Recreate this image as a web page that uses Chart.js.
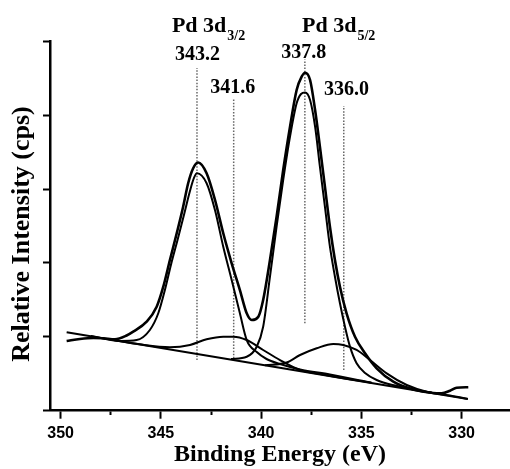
<!DOCTYPE html>
<html>
<head>
<meta charset="utf-8">
<title>Pd 3d XPS</title>
<script src="https://cdn.jsdelivr.net/npm/chart.js"></script>
<style>
  html, body { margin: 0; padding: 0; background: #fff; }
</style>
</head>
<body>
<canvas id="xps" width="510" height="469"></canvas>
<script>
// Data: [binding energy (eV), relative intensity]
const measured = [
  [349.70, 0.944], [349.04, 0.971], [348.37, 0.984], [347.88, 0.980], [347.29, 0.967],
  [346.71, 1.018], [346.38, 1.070], [345.71, 1.205], [345.21, 1.408], [344.88, 1.679],
  [344.55, 2.040], [344.21, 2.402], [343.89, 2.762], [343.64, 3.079], [343.39, 3.282],
  [343.14, 3.360], [342.72, 3.214], [342.30, 2.853], [341.89, 2.402], [341.47, 1.996],
  [341.06, 1.634], [340.72, 1.319], [340.47, 1.228], [340.14, 1.273], [339.90, 1.499],
  [339.56, 2.040], [339.23, 2.627], [338.90, 3.259], [338.56, 3.845], [338.23, 4.342],
  [337.98, 4.522], [337.81, 4.576], [337.56, 4.477], [337.31, 4.071], [337.07, 3.574],
  [336.82, 3.033], [336.57, 2.491], [336.32, 2.040], [336.07, 1.679], [335.74, 1.319],
  [335.32, 1.002], [334.82, 0.777], [334.24, 0.574], [333.41, 0.393], [332.41, 0.287],
  [331.42, 0.240], [331.00, 0.236], [330.58, 0.271], [330.25, 0.311], [329.67, 0.317]
];

const peak3432 = [
  [348.50, 1.010], [347.00, 0.945], [346.21, 0.957], [345.55, 1.093], [345.13, 1.319],
  [344.80, 1.634], [344.50, 1.973], [344.17, 2.311], [343.85, 2.650], [343.55, 2.975],
  [343.35, 3.151], [343.20, 3.214], [342.72, 3.079], [342.30, 2.713], [341.89, 2.220],
  [341.47, 1.770], [341.06, 1.319], [340.72, 0.957], [340.22, 0.794], [339.73, 0.700],
  [339.06, 0.632], [338.06, 0.558], [336.57, 0.490], [334.50, 0.380]
];

const peak3416 = [
  [347.50, 0.963], [346.05, 0.899], [344.55, 0.860], [343.55, 0.890], [342.72, 0.967],
  [341.89, 1.002], [341.39, 1.002], [340.72, 0.957], [339.90, 0.822], [339.06, 0.686],
  [338.06, 0.551], [337.07, 0.497], [335.82, 0.436], [334.50, 0.378]
];

const peak3378 = [
  [341.50, 0.700], [340.72, 0.731], [340.22, 0.866], [339.90, 1.137], [339.56, 1.814],
  [339.23, 2.491], [338.90, 3.124], [338.56, 3.710], [338.23, 4.162], [338.01, 4.288],
  [337.81, 4.308], [337.56, 4.207], [337.31, 3.845], [337.07, 3.304], [336.82, 2.762],
  [336.57, 2.220], [336.32, 1.814], [336.07, 1.454], [335.82, 1.137], [335.57, 0.867],
  [335.24, 0.642], [334.82, 0.510], [334.24, 0.416], [333.33, 0.341], [331.50, 0.245]
];

const peak3360 = [
  [339.81, 0.615], [338.73, 0.653], [338.06, 0.754], [337.23, 0.845], [336.40, 0.903],
  [335.91, 0.890], [335.24, 0.822], [334.57, 0.686], [333.74, 0.506], [332.74, 0.348],
  [331.75, 0.257], [330.58, 0.206], [329.69, 0.160]
];

const background = [[349.70, 1.061], [329.69, 0.158]];

// dotted guide lines at the fitted peak positions
const peakLabels = ['343.2', '341.6', '337.8', '336.0'];
const markerEnergy = [343.20, 341.37, 337.82, 335.88];
const markerTop = [4.64, 4.22, 4.76, 4.125];
const markerBottom = [0.686, 0.709, 1.183, 0.552];

const doubletSub = ['3/2', '5/2'];
const doubletEnergy = [344.45, 337.96];

const xTicks = [330, 335, 340, 345, 350];

const toPoints = arr => arr.map(([x, y]) => ({ x, y }));

function curve(data, width) {
  return {
    data: toPoints(data),
    borderColor: '#000',
    borderWidth: width,
    pointRadius: 0,
    fill: false,
    cubicInterpolationMode: 'monotone'
  };
}

const markerSets = markerEnergy.map((e, i) => ({
  data: [{ x: e, y: markerBottom[i] }, { x: e, y: markerTop[i] }],
  borderColor: '#666',
  borderWidth: 1.5,
  borderDash: [1.5, 1.6],
  pointRadius: 0,
  fill: false
}));

// labels above the guide lines, doublet headers and the y title
const labelShift = [[0.5, -8], [-1, -6], [-1, -1.5], [2.7, -11]];
const peakNotes = {
  id: 'peakNotes',
  afterDatasetsDraw(chart) {
    const { ctx, chartArea, scales: { x, y } } = chart;
    ctx.save();
    ctx.fillStyle = '#000';
    ctx.textBaseline = 'alphabetic';

    doubletSub.forEach((sub, i) => {
      const px = x.getPixelForValue(doubletEnergy[i]);
      ctx.textAlign = 'left';
      ctx.font = 'bold 22px "Liberation Serif"';
      ctx.fillText('Pd 3d', px, 32);
      const w = ctx.measureText('Pd 3d').width;
      ctx.font = 'bold 14px "Liberation Serif"';
      ctx.fillText(sub, px + w + 1, 40);
    });

    ctx.font = 'bold 20px "Liberation Serif"';
    ctx.textAlign = 'center';
    peakLabels.forEach((t, i) => {
      const px = x.getPixelForValue(markerEnergy[i]) + labelShift[i][0];
      const py = y.getPixelForValue(markerTop[i]) + labelShift[i][1];
      ctx.fillText(t, px, py);
    });

    // y axis title, sitting a little below the middle of the axis
    ctx.translate(22, (chartArea.top + chartArea.bottom) / 2 + 8);
    ctx.rotate(-Math.PI / 2);
    ctx.textBaseline = 'middle';
    ctx.font = 'bold 26px "Liberation Serif"';
    ctx.fillText('Relative Intensity (cps)', 0, 0);
    ctx.restore();
  }
};

new Chart(document.getElementById('xps'), {
  type: 'line',
  data: {
    datasets: [
      curve(measured, 2.6),
      curve(peak3432, 2),
      curve(peak3416, 2),
      curve(peak3378, 2),
      curve(peak3360, 2),
      curve(background, 2),
      ...markerSets
    ]
  },
  options: {
    responsive: false,
    animation: false,
    layout: { padding: { top: 41.4, right: 0, bottom: 0, left: 0 } },
    plugins: { legend: { display: false }, tooltip: { enabled: false } },
    scales: {
      x: {
        type: 'linear',
        reverse: true,
        min: 327.59,
        max: 350.53,
        afterFit: s => { s.height = 58.3; },
        border: { display: true, color: '#000', width: 2.5 },
        grid: {
          drawOnChartArea: false,
          drawTicks: true,
          tickLength: 8,
          tickWidth: 2,
          tickColor: '#000',
          tickBorderDash: c => (c.tick && xTicks.includes(c.tick.value)) ? [] : [3.5, 40]
        },
        ticks: {
          stepSize: 2.5,
          includeBounds: false,
          autoSkip: false,
          maxRotation: 0,
          padding: 5,
          color: '#000',
          font: { family: '"Liberation Sans"', size: 16, weight: 'bold' },
          callback: v => xTicks.includes(v) ? String(v) : ''
        },
        title: {
          display: true,
          text: 'Binding Energy (eV)',
          color: '#000',
          padding: { top: 0, bottom: 0 },
          font: { family: '"Liberation Serif"', size: 24, weight: 'bold' }
        }
      },
      y: {
        min: 0,
        max: 5,
        afterFit: s => { s.width = 50; },
        border: { display: true, color: '#000', width: 2.5 },
        grid: {
          drawOnChartArea: false,
          drawTicks: true,
          tickLength: 7,
          tickWidth: 2,
          tickColor: '#000'
        },
        ticks: { stepSize: 1, display: false }
      }
    }
  },
  plugins: [peakNotes]
});
</script>
</body>
</html>
